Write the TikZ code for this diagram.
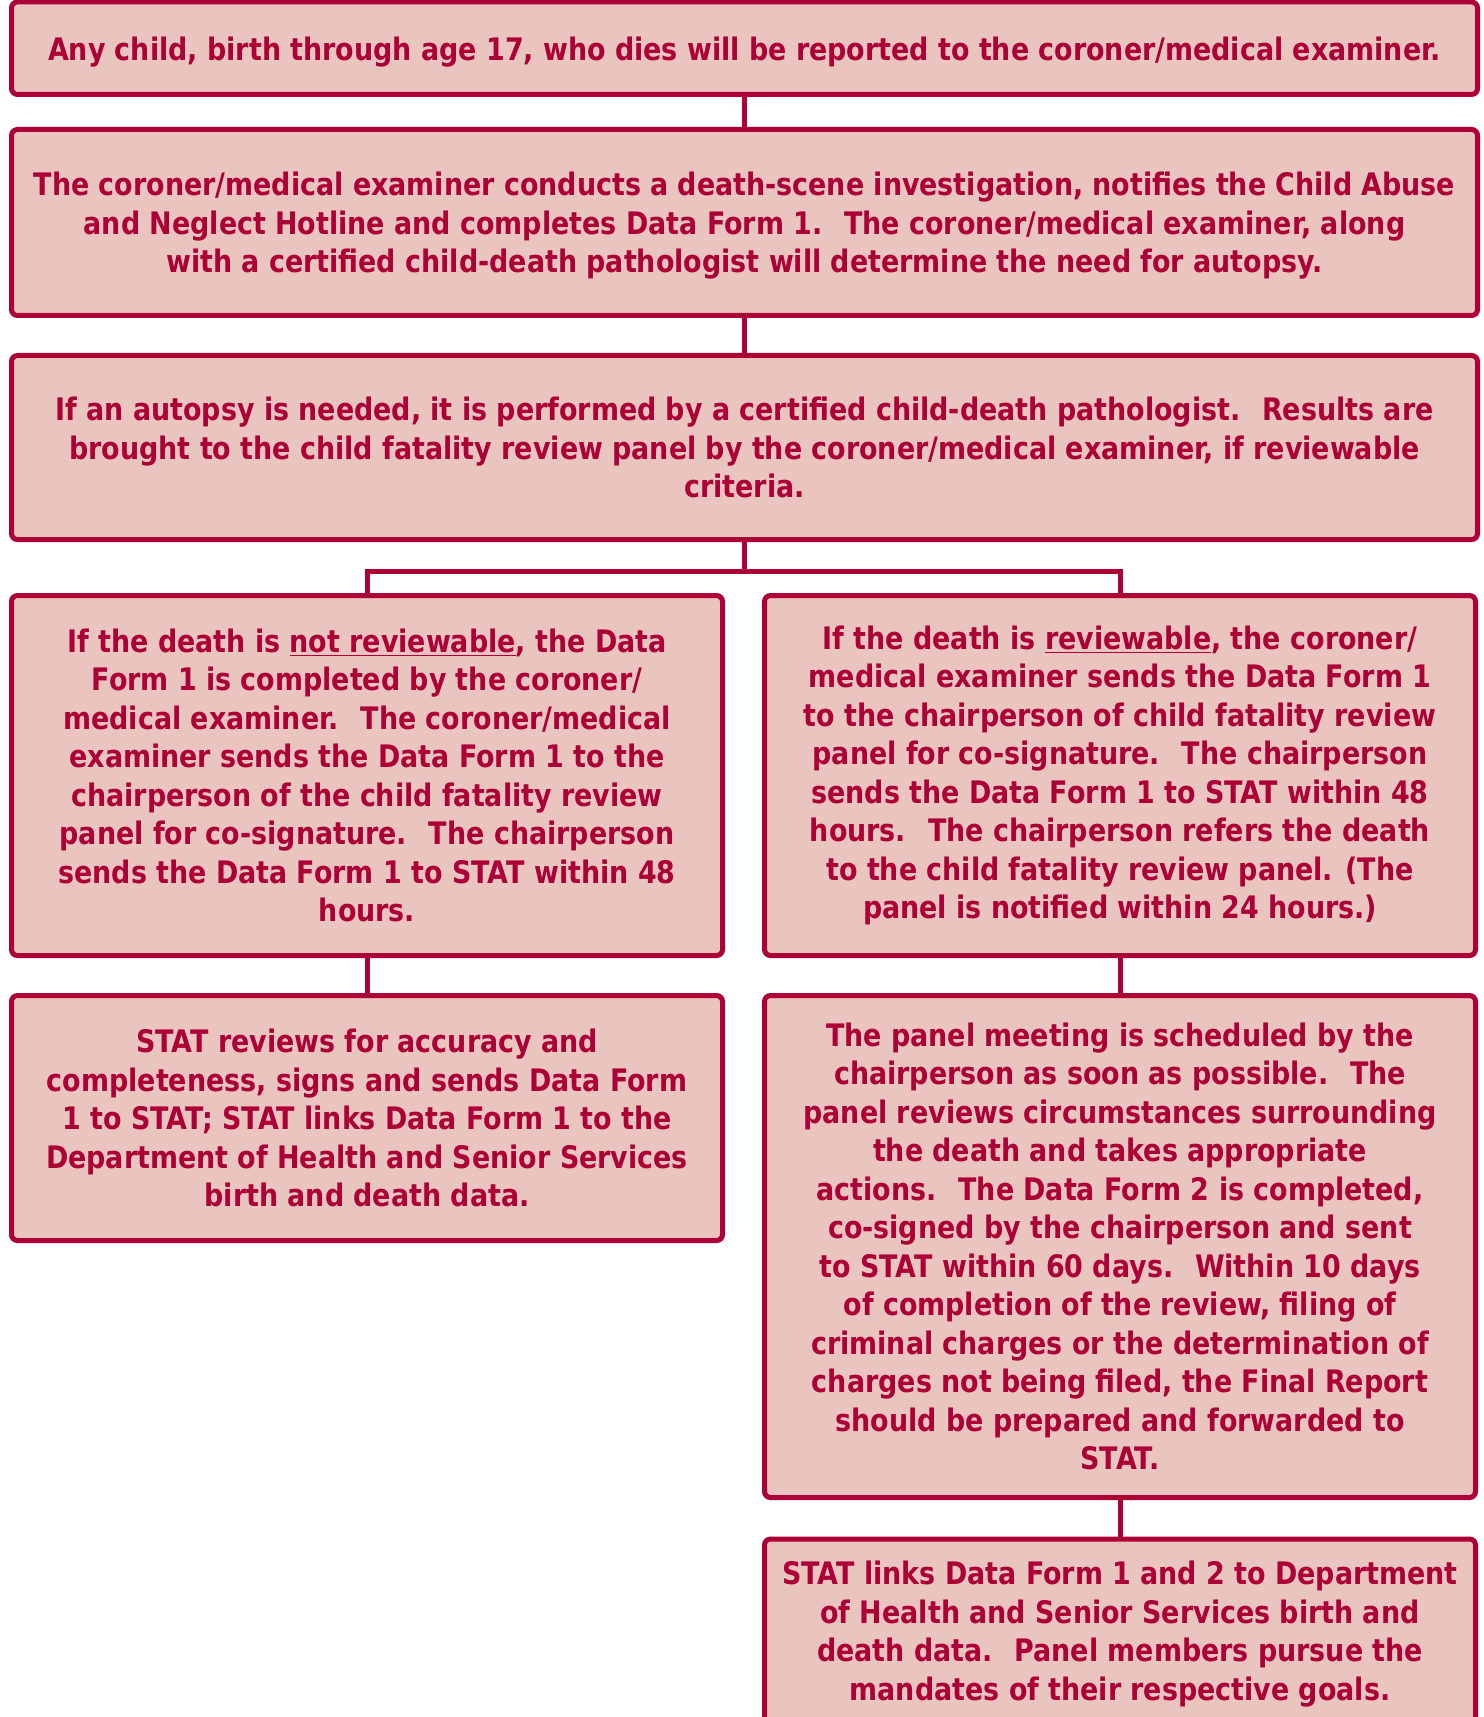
\documentclass[tikz,border=0pt]{standalone}
\usepackage{fontspec}
\setmainfont{DejaVu Sans}[FakeStretch=0.868]
\definecolor{crim}{HTML}{AC0036}
\definecolor{pinkfill}{HTML}{EAC5C0}
\begin{document}
\begin{tikzpicture}[x=0.5pt,y=-0.5pt,
  box/.style={draw=crim, fill=pinkfill, line width=2.5pt, rounded corners=3pt,
    text=crim, align=center, inner sep=0pt,
    font=\bfseries\fontsize{15.5}{19.25}\selectfont},
  conn/.style={draw=crim, line width=2.5pt}]
\useasboundingbox (0,0) rectangle (1483,1717);
\node[box, text depth=0pt, minimum width=733pt, minimum height=46.25pt] (b1) at (744.5,48.25)
 {Any child, birth through age 17, who dies will be reported to the coroner/medical examiner.};
\node[box, text depth=0pt, minimum width=733pt, minimum height=93pt] (b2) at (744.5,222.5)
 {The coroner/medical examiner conducts a death-scene investigation, notifies the Child Abuse\\
 and Neglect Hotline and completes Data Form 1.~ The coroner/medical examiner, along\\
 with a certified child-death pathologist will determine the need for autopsy.};
\node[box, minimum width=733pt, minimum height=92pt] (b3) at (744.5,447.5)
 {If an autopsy is needed, it is performed by a certified child-death pathologist.~ Results are\\
 brought to the child fatality review panel by the coroner/medical examiner, if reviewable\\
 criteria.};
\node[box, minimum width=355.5pt, minimum height=180pt] (l2) at (367,775.5)
 {If the death is \underline{not reviewable}, the Data\\
 Form 1 is completed by the coroner/\\
 medical examiner.~ The coroner/medical\\
 examiner sends the Data Form 1 to the\\
 chairperson of the child fatality review\\
 panel for co-signature.~ The chairperson\\
 sends the Data Form 1 to STAT within 48\\
 hours.};
\node[box, minimum width=355.5pt, minimum height=180pt] (r2) at (1120,775.5)
 {If the death is \underline{reviewable}, the coroner/\\
 medical examiner sends the Data Form 1\\
 to the chairperson of child fatality review\\
 panel for co-signature.~ The chairperson\\
 sends the Data Form 1 to STAT within 48\\
 hours.~ The chairperson refers the death\\
 to the child fatality review panel. (The\\
 panel is notified within 24 hours.)};
\node[box, minimum width=355.5pt, minimum height=122.5pt] (l3) at (367,1118)
 {STAT reviews for accuracy and\\
 completeness, signs and sends Data Form\\
 1 to STAT; STAT links Data Form 1 to the\\
 Department of Health and Senior Services\\
 birth and death data.};
\node[box, minimum width=355.5pt, minimum height=251pt] (r3) at (1120,1246.5)
 {The panel meeting is scheduled by the\\
 chairperson as soon as possible.~ The\\
 panel reviews circumstances surrounding\\
 the death and takes appropriate\\
 actions.~ The Data Form 2 is completed,\\
 co-signed by the chairperson and sent\\
 to STAT within 60 days.~ Within 10 days\\
 of completion of the review, filing of\\
 criminal charges or the determination of\\
 charges not being filed, the Final Report\\
 should be prepared and forwarded to\\
 STAT.};
\node[box, minimum width=355.5pt, minimum height=95pt] (r4) at (1120,1634)
 {STAT links Data Form 1 and 2 to Department\\
 of Health and Senior Services birth and\\
 death data.~ Panel members pursue the\\
 mandates of their respective goals.};
\coordinate (j) at (744.5,571);
\draw[conn] (b1.south) -- (b2.north);
\draw[conn] (b2.south) -- (b3.north);
\draw[conn] (b3.south) -- (j);
\draw[conn, line join=miter] (l2.north) -- (l2.north |- j) -- (r2.north |- j) -- (r2.north);
\draw[conn] (l2.south) -- (l3.north);
\draw[conn] (r2.south) -- (r3.north);
\draw[conn] (r3.south) -- (r4.north);
\end{tikzpicture}
\end{document}
